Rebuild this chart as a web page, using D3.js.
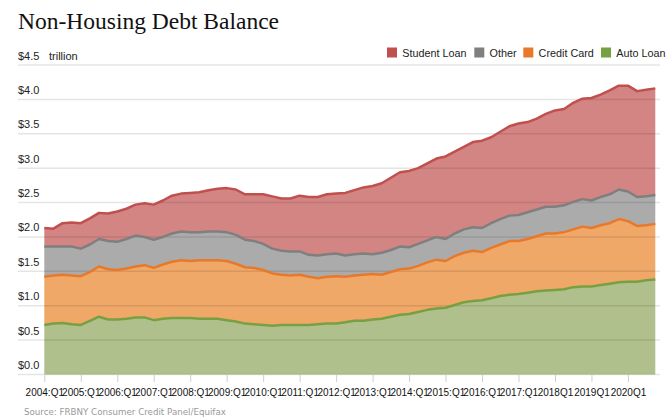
<!DOCTYPE html>
<html>
<head>
<meta charset="utf-8">
<script src="https://cdn.jsdelivr.net/npm/d3@7"></script>
<style>
  html, body { margin: 0; padding: 0; background: #fff; }
  svg { display: block; }
</style>
</head>
<body>
<svg id="chart" width="671" height="419"></svg>
<script>
const quarters = [
  "2004:Q1","2004:Q2","2004:Q3","2004:Q4","2005:Q1","2005:Q2","2005:Q3","2005:Q4",
  "2006:Q1","2006:Q2","2006:Q3","2006:Q4","2007:Q1","2007:Q2","2007:Q3","2007:Q4",
  "2008:Q1","2008:Q2","2008:Q3","2008:Q4","2009:Q1","2009:Q2","2009:Q3","2009:Q4",
  "2010:Q1","2010:Q2","2010:Q3","2010:Q4","2011:Q1","2011:Q2","2011:Q3","2011:Q4",
  "2012:Q1","2012:Q2","2012:Q3","2012:Q4","2013:Q1","2013:Q2","2013:Q3","2013:Q4",
  "2014:Q1","2014:Q2","2014:Q3","2014:Q4","2015:Q1","2015:Q2","2015:Q3","2015:Q4",
  "2016:Q1","2016:Q2","2016:Q3","2016:Q4","2017:Q1","2017:Q2","2017:Q3","2017:Q4",
  "2018Q1","2018Q2","2018Q3","2018Q4","2019Q1","2019Q2","2019Q3","2019Q4",
  "2020Q1","2020Q2","2020Q3","2020Q4"
];
const autoLoan = [
  0.72,0.74,0.75,0.73,0.72,0.78,0.84,0.80,
  0.80,0.81,0.83,0.83,0.79,0.81,0.82,0.82,
  0.82,0.81,0.81,0.81,0.79,0.77,0.74,0.73,
  0.72,0.71,0.72,0.72,0.72,0.72,0.73,0.74,
  0.74,0.76,0.78,0.78,0.80,0.81,0.84,0.87,
  0.88,0.91,0.94,0.96,0.97,1.01,1.05,1.07,
  1.08,1.11,1.14,1.16,1.17,1.19,1.21,1.22,
  1.23,1.24,1.27,1.28,1.28,1.30,1.32,1.34,
  1.35,1.35,1.37,1.38
];
const creditCard = [
  0.70,0.70,0.70,0.71,0.71,0.71,0.73,0.73,
  0.72,0.73,0.74,0.76,0.76,0.79,0.82,0.84,
  0.83,0.85,0.85,0.85,0.86,0.84,0.82,0.82,
  0.80,0.76,0.73,0.72,0.73,0.70,0.67,0.68,
  0.69,0.66,0.66,0.67,0.66,0.64,0.65,0.66,
  0.66,0.67,0.69,0.71,0.68,0.71,0.72,0.73,
  0.70,0.73,0.75,0.78,0.77,0.78,0.80,0.83,
  0.82,0.83,0.84,0.87,0.85,0.87,0.88,0.92,
  0.88,0.81,0.80,0.81
];
const other = [
  0.44,0.42,0.41,0.42,0.40,0.40,0.40,0.41,
  0.41,0.43,0.45,0.41,0.41,0.40,0.41,0.42,
  0.42,0.41,0.42,0.42,0.42,0.42,0.40,0.39,
  0.38,0.36,0.35,0.35,0.34,0.32,0.33,0.33,
  0.33,0.31,0.31,0.31,0.29,0.32,0.32,0.33,
  0.31,0.32,0.32,0.33,0.32,0.33,0.34,0.34,
  0.35,0.36,0.37,0.37,0.38,0.39,0.39,0.39,
  0.39,0.39,0.40,0.40,0.40,0.41,0.42,0.43,
  0.43,0.42,0.42,0.42
];
const studentLoan = [
  0.27,0.26,0.34,0.35,0.37,0.38,0.38,0.40,
  0.44,0.44,0.45,0.49,0.51,0.53,0.55,0.55,
  0.57,0.58,0.60,0.62,0.64,0.66,0.66,0.68,
  0.72,0.76,0.76,0.77,0.81,0.84,0.85,0.87,
  0.87,0.91,0.93,0.96,0.99,1.01,1.05,1.08,
  1.11,1.10,1.12,1.14,1.20,1.19,1.20,1.24,
  1.27,1.25,1.27,1.30,1.33,1.31,1.32,1.35,
  1.40,1.40,1.44,1.46,1.49,1.49,1.51,1.51,
  1.54,1.54,1.55,1.55
];
const seriesNames = ["Auto Loan","Credit Card","Other","Student Loan"];
const strokeColors = ["#77a043","#e8792a","#7f7f7f","#c0504d"];
const fillColors = ["#b0c08c","#f0a868","#ababab","#d38584"];
const legendOrder = ["Student Loan","Other","Credit Card","Auto Loan"];
const yTicks = [0,0.5,1,1.5,2,2.5,3,3.5,4,4.5];
const xTickQuarters = ["2004:Q1","2005:Q1","2006:Q1","2007:Q1","2008:Q1","2009:Q1","2010:Q1","2011:Q1",
  "2012:Q1","2013:Q1","2014:Q1","2015:Q1","2016:Q1","2017:Q1","2018Q1","2019Q1","2020Q1"];

const svg = d3.select("#chart");
const sans = "'Liberation Sans', Arial, sans-serif";

const table = quarters.map((q, i) => ({
  q, "Auto Loan": autoLoan[i], "Credit Card": creditCard[i], "Other": other[i], "Student Loan": studentLoan[i]
}));
const stacked = d3.stack().keys(seriesNames)(table);

const x = d3.scalePoint().domain(quarters).range([44.3, 655.3]);
const y = d3.scaleLinear().domain([0, 4.5]).range([374.5, 65]);

// Title
svg.append("text").attr("x", 18).attr("y", 28.5)
  .attr("font-family", "'Liberation Serif', 'Times New Roman', serif")
  .attr("font-size", 23.5).attr("fill", "#111")
  .text("Non-Housing Debt Balance");

// Areas
const area = d3.area().x(d => x(d.data.q)).y0(d => y(d[0])).y1(d => y(d[1]));
svg.append("g").selectAll("path").data(stacked).join("path")
  .attr("d", area).attr("fill", (d, i) => fillColors[i]);

// Gridlines (on top of fills, faint)
const grid = svg.append("g");
grid.selectAll("line").data(yTicks).join("line")
  .attr("x1", 18).attr("x2", 660)
  .attr("y1", d => y(d)).attr("y2", d => y(d))
  .attr("stroke", "rgba(0,0,0,0.1)").attr("stroke-width", 1.5);

// Lines
const line = d3.line().x(d => x(d.data.q)).y(d => y(d[1]));
svg.append("g").selectAll("path").data(stacked).join("path")
  .attr("d", line).attr("fill", "none")
  .attr("stroke", (d, i) => strokeColors[i]).attr("stroke-width", 2.5)
  .attr("stroke-linejoin", "round");

// Y labels
svg.append("g").selectAll("text").data(yTicks).join("text")
  .attr("x", 18).attr("y", d => y(d) - 5.5)
  .attr("font-family", sans).attr("font-size", 11).attr("fill", "#222")
  .text(d => "$" + d.toFixed(1));
svg.append("text").attr("x", 49).attr("y", y(4.5) - 5.5)
  .attr("font-family", sans).attr("font-size", 11).attr("fill", "#222")
  .text("trillion");

// X axis
const xAxis = d3.axisBottom(x).tickValues(xTickQuarters).tickSize(7).tickPadding(6.5).tickSizeOuter(0);
const gx = svg.append("g").attr("transform", "translate(0,375)").call(xAxis);
gx.select(".domain").remove();
gx.selectAll(".tick line").attr("stroke", "#cfcfcf").attr("stroke-width", 1);
gx.selectAll(".tick text").attr("font-family", sans).attr("font-size", 10).attr("fill", "#111");

// Legend
const legendX = [387, 474.3, 523.3, 601];
const lg = svg.append("g");
legendOrder.forEach((name, k) => {
  const idx = seriesNames.indexOf(name);
  lg.append("rect").attr("x", legendX[k]).attr("y", 47.5).attr("width", 10).attr("height", 10)
    .attr("fill", strokeColors[idx]);
  lg.append("text").attr("x", legendX[k] + 15.3).attr("y", 56.5)
    .attr("font-family", sans).attr("font-size", 10.8).attr("fill", "#222")
    .text(name);
});

// Source
svg.append("text").attr("x", 24).attr("y", 414.5)
  .attr("font-family", "'DejaVu Sans', sans-serif").attr("font-size", 8.7).attr("fill", "#999")
  .text("Source: FRBNY Consumer Credit Panel/Equifax");
</script>
</body>
</html>
